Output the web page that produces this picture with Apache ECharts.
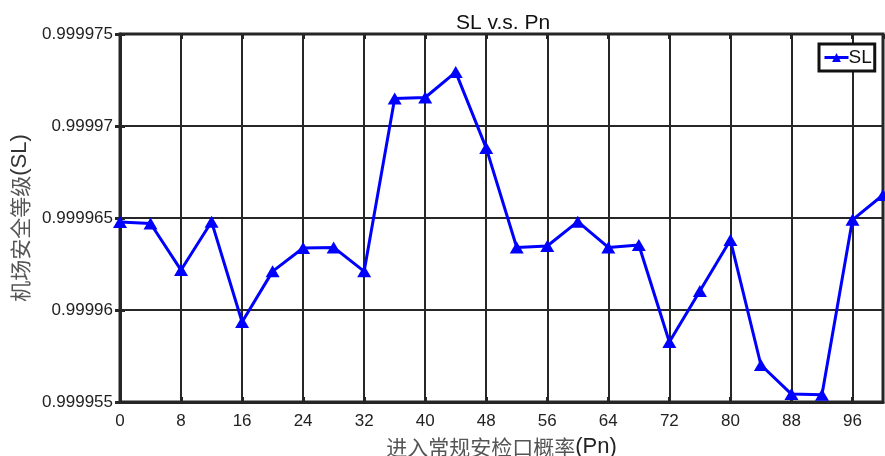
<!DOCTYPE html>
<html>
<head>
<meta charset="utf-8">
<script src="https://cdn.jsdelivr.net/npm/echarts@6/dist/echarts.min.js"></script>
<style>
  html, body { margin: 0; padding: 0; background: #fff; }
  #chart { width: 885px; height: 456px; }
</style>
</head>
<body>
<div id="chart"></div>
<script>
// Probability of entering the regular security checkpoint (Pn, %)
const pn = [0, 4, 8, 12, 16, 20, 24, 28, 32, 36, 40, 44, 48,
            52, 56, 60, 64, 68, 72, 76, 80, 84, 88, 92, 96, 100];
// Airport safety level (SL) at each Pn
const sl = [0.99996478, 0.99996470, 0.99996217, 0.99996480, 0.99995935,
            0.99996210, 0.99996337, 0.99996340, 0.99996210, 0.99997150,
            0.99997155, 0.99997293, 0.99996880, 0.99996340, 0.99996348,
            0.99996480, 0.99996340, 0.99996353, 0.99995826, 0.99996103,
            0.99996380, 0.99995701, 0.99995543, 0.99995540, 0.99996490,
            0.99996625];
const yTicks = [0.999955, 0.99996, 0.999965, 0.99997, 0.999975];
const xTickStep = 8;

const latin = '"Liberation Sans", Arial, sans-serif';
const cjk = '"Noto Sans CJK SC", sans-serif';
const ink = '#262626';

const chart = echarts.init(document.getElementById('chart'));
chart.setOption({
  animation: false,
  backgroundColor: '#fff',
  title: {
    text: 'SL v.s. Pn',
    left: 451,
    top: 8,
    textStyle: { fontFamily: latin, fontSize: 21, fontWeight: 'normal', color: '#111' }
  },
  legend: {
    data: ['SL'],
    left: 819,
    top: 44,
    orient: 'vertical',
    padding: [4, 3, 4, 4],
    itemWidth: 24,
    itemHeight: 11,
    itemGap: 0,
    borderColor: '#111',
    borderWidth: 3,
    backgroundColor: '#fff',
    lineStyle: { width: 3 },
    textStyle: { fontFamily: latin, fontSize: 19, color: '#111', padding: [0, 0, 0, -5] }
  },
  grid: {
    left: 120, right: 2, top: 34, bottom: 54,
    outerBoundsMode: 'none',
    containLabel: false,
    show: true, borderColor: ink, borderWidth: 3, backgroundColor: 'transparent'
  },
  xAxis: [{
    type: 'value',
    min: 0, max: 100, interval: xTickStep,
    name: '{c|进入常规安检口概率}{l|(Pn)}',
    nameLocation: 'middle',
    nameGap: 34,
    nameTextStyle: {
      rich: {
        c: { fontFamily: cjk, fontSize: 21, color: '#555' },
        l: { fontFamily: latin, fontSize: 22, color: '#222' }
      }
    },
    axisLine: { show: true, onZero: false, lineStyle: { color: ink, width: 3 } },
    axisTick: { show: true, inside: true, length: 5, lineStyle: { color: ink, width: 3 } },
    axisLabel: {
      fontFamily: latin, fontSize: 17, color: '#222', margin: 11,
      showMaxLabel: false,
      formatter: v => (v % xTickStep === 0 ? String(v) : '')
    },
    splitLine: { show: true, lineStyle: { color: ink, width: 2 } }
  }, {
    type: 'value', position: 'top',
    min: 0, max: 100, interval: xTickStep,
    axisLine: { show: false },
    axisTick: { show: true, inside: true, length: 5, lineStyle: { color: ink, width: 3 } },
    axisLabel: { show: false },
    splitLine: { show: false }
  }],
  yAxis: [{
    type: 'value',
    min: yTicks[0], max: yTicks[yTicks.length - 1], interval: yTicks[1] - yTicks[0],
    name: '{c|机场安全等级}{l|(SL)}',
    nameLocation: 'middle',
    nameGap: 86,
    nameTextStyle: {
      rich: {
        c: { fontFamily: cjk, fontSize: 21, color: '#555' },
        l: { fontFamily: latin, fontSize: 22, color: '#333' }
      }
    },
    axisLine: { show: true, onZero: false, lineStyle: { color: ink, width: 3 } },
    axisTick: { show: true, inside: true, length: 5, lineStyle: { color: ink, width: 3 } },
    axisLabel: {
      fontFamily: latin, fontSize: 17, color: '#222', margin: 7,
      formatter: v => String(+v.toFixed(6))
    },
    splitLine: { show: true, lineStyle: { color: ink, width: 2 } }
  }, {
    type: 'value', position: 'right',
    min: yTicks[0], max: yTicks[yTicks.length - 1], interval: yTicks[1] - yTicks[0],
    axisLine: { show: false },
    axisTick: { show: true, inside: true, length: 5, lineStyle: { color: ink, width: 3 } },
    axisLabel: { show: false },
    splitLine: { show: false }
  }],
  series: [{
    name: 'SL',
    type: 'line',
    data: pn.map((x, i) => [x, sl[i]]),
    symbol: 'triangle',
    symbolSize: [14, 12],
    showAllSymbol: true,
    clip: false,
    lineStyle: { color: '#0000ff', width: 3 },
    itemStyle: { color: '#0000ff', borderWidth: 0 }
  }]
});
</script>
</body>
</html>
